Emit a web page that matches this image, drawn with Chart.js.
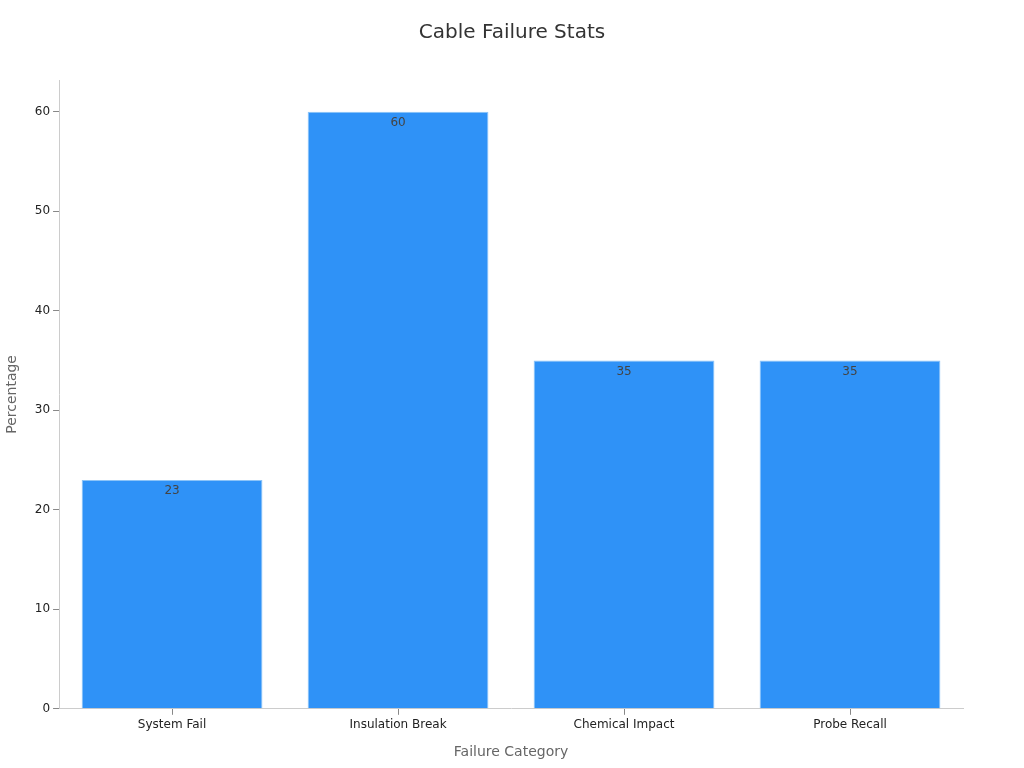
<!DOCTYPE html>
<html><head><meta charset="utf-8">
<script src="https://cdn.jsdelivr.net/npm/chart.js@4"></script>
<style>html,body{margin:0;padding:0;background:#fff}#wrap{width:1024px;height:768px}</style>
</head><body><div id="wrap"><canvas id="c"></canvas></div>
<script>
const categories = ["System Fail", "Insulation Break", "Chemical Impact", "Probe Recall"];
const percentages = [23, 60, 35, 35];
const yTicks = [0, 10, 20, 30, 40, 50, 60];
const chartTitle = 'Cable Failure Stats';

const valueLabels = {
  id: 'valueLabels',
  afterDatasetsDraw(chart) {
    const ctx = chart.ctx;
    const meta = chart.getDatasetMeta(0);
    ctx.save();
    ctx.font = '12px "DejaVu Sans"';
    ctx.fillStyle = '#444';
    ctx.textAlign = 'center';
    ctx.textBaseline = 'middle';
    meta.data.forEach((bar, i) => {
      ctx.fillText(String(percentages[i]), bar.x, bar.y + 11);
    });
    ctx.restore();
  }
};

const centeredTitle = {
  id: 'centeredTitle',
  afterDraw(chart) {
    const ctx = chart.ctx;
    ctx.save();
    ctx.font = '20px "DejaVu Sans"';
    ctx.fillStyle = '#333';
    ctx.textAlign = 'center';
    ctx.textBaseline = 'middle';
    ctx.fillText(chartTitle, chart.width / 2, 33);
    ctx.restore();
  }
};

new Chart(document.getElementById('c'), {
  type: 'bar',
  data: {
    labels: categories,
    datasets: [{
      data: percentages,
      backgroundColor: '#2f92f7',
      borderColor: '#8cc4f8',
      borderWidth: 1,
      categoryPercentage: 0.8,
      barPercentage: 1.0
    }]
  },
  options: {
    responsive: true,
    maintainAspectRatio: false,
    animation: false,
    layout: { padding: { top: 80, right: 61, left: 0, bottom: 3 } },
    plugins: {
      legend: { display: false },
      tooltip: { enabled: false },
      title: { display: false }
    },
    scales: {
      x: {
        grid: { display: true, offset: false, drawOnChartArea: false, drawTicks: true, tickLength: 6, color: '#888' },
        border: { display: true, color: '#ccc' },
        ticks: { color: '#222', font: { family: 'DejaVu Sans', size: 12 }, padding: 3 },
        title: { display: true, text: 'Failure Category', color: '#666', font: { family: 'DejaVu Sans', size: 14 }, padding: { top: 9 } }
      },
      y: {
        min: 0,
        max: 63.2,
        afterBuildTicks(axis) { axis.ticks = yTicks.map(v => ({ value: v })); },
        grid: { display: true, drawOnChartArea: false, drawTicks: true, tickLength: 6, color: '#888' },
        border: { display: true, color: '#ccc' },
        ticks: { color: '#222', font: { family: 'DejaVu Sans', size: 12 }, padding: 3 },
        title: { display: true, text: 'Percentage', color: '#666', font: { family: 'DejaVu Sans', size: 14 }, padding: { bottom: 11 } }
      }
    }
  },
  plugins: [valueLabels, centeredTitle]
});
</script></body></html>
